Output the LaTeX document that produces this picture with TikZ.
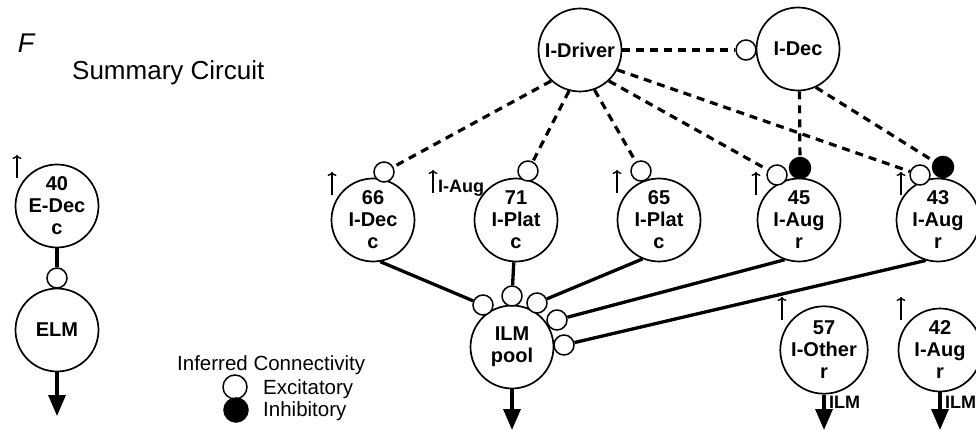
\documentclass[tikz,border=0pt]{standalone}
\usepackage{fontspec}
\setmainfont{Liberation Sans}
\usetikzlibrary{arrows.meta}

\tikzset{
  cell/.style={circle, draw, line width=1.7pt, minimum size=83pt, inner sep=0pt,
    align=center, font=\fontsize{20}{22}\selectfont\bfseries},
  exc/.style={circle, draw, fill=white, line width=1.5pt, minimum size=20pt, inner sep=0pt},
  inh/.style={circle, draw, fill=black, line width=1.5pt, minimum size=21pt, inner sep=0pt},
  guess/.style={line width=3.2pt, dash pattern=on 8pt off 6pt},
  link/.style={line width=3.3pt},
  outflow/.style={line width=3.3pt, -{Triangle[length=21pt,width=17pt]}},
  rise/.style={line width=1.4pt, -{To[length=4pt,width=9pt]}},
  tag/.style={font=\fontsize{18}{20}\selectfont\bfseries},
  legend/.style={font=\fontsize{20.5}{23}\selectfont}
}

\begin{document}
\begin{tikzpicture}[x=1pt, y=-1pt]
	\useasboundingbox (0,0) rectangle (976,430);

	% panel letter and title
	\node[font=\fontsize{27}{30}\selectfont\itshape, inner sep=0pt] (panel) at (26,43) {F};
	\node[anchor=base west, inner sep=0pt, font=\fontsize{26}{28}\selectfont] (title) at (72,80) {Summary Circuit};

	% cells
	\node[cell] (c40) at (57,206) {40\\E-Dec\\c};
	\node[cell] (elm) at (57,330) {ELM};
	\node[cell] (drv) at (580,50) {I-Driver};
	\node[cell] (dec) at (798,49) {I-Dec};
	\node[cell] (c66) at (373,220) {66\\I-Dec\\c};
	\node[cell] (c71) at (516,220) {71\\I-Plat\\c};
	\node[cell] (c65) at (659,220) {65\\I-Plat\\c};
	\node[cell] (c45) at (799,220) {45\\I-Aug\\r};
	\node[cell] (c43) at (938,220) {43\\I-Aug\\r};
	\node[cell] (pool) at (512,347) {ILM\\pool};
	\node[cell] (c57) at (824,350) {57\\I-Other\\r};
	\node[cell] (c42) at (940,350) {42\\I-Aug\\r};

	% synapses
	\node[exc] (e1) at (57,278) {};
	\node[exc] (sdec) at (746,50) {};
	\node[exc] (s66) at (384,172) {};
	\node[exc] (s71) at (528,171) {};
	\node[exc] (s65) at (641,171) {};
	\node[exc] (s45) at (777,175) {};
	\node[inh] (s45i) at (800,168) {};
	\node[exc] (s43) at (920,175) {};
	\node[inh] (s43i) at (943,167) {};
	\node[exc] (i1) at (483,305) {};
	\node[exc] (i2) at (512,296) {};
	\node[exc] (i3) at (537,303) {};
	\node[exc] (i4) at (557,320) {};
	\node[exc] (i5) at (564,345) {};

	% inferred inputs
	\draw[guess] (drv.0) -- (sdec);
	\draw[guess] (drv.227) -- (s66);
	\draw[guess] (drv.255) -- (s71);
	\draw[guess] (drv.290) -- (s65);
	\draw[guess] (drv.313) -- (s45);
	\draw[guess] (drv.332) -- (s43);
	\draw[guess] (dec.272) -- (s45i);
	\draw[guess] (dec.295) -- (s43i);

	% projections
	\draw[link] (c40) -- (e1);
	\draw[link] (c66.280) -- (i1);
	\draw[link] (c71) -- (i2);
	\draw[link] (c65.247) -- (i3);
	\draw[link] (c45.250) -- (i4);
	\draw[link] (c43.253) -- (i5);

	% outputs
	\coordinate (elmout) at (57,416);
	\coordinate (poolout) at (512,430);
	\coordinate (out57) at (824,430);
	\coordinate (out42) at (940,430);
	\draw[outflow] (elm) -- (elmout);
	\draw[outflow] (pool) -- (poolout);
	\draw[outflow] (c57) -- (out57);
	\draw[outflow] (c42) -- (out42);
	\node[tag, anchor=west, inner sep=0pt] (ilm57) at (829,402) {ILM};
	\node[tag, anchor=west, inner sep=0pt] (ilm42) at (945,402) {ILM};

	% up arrows
	\foreach \x/\y in {17/178, 332/195, 433/193, 617/193, 756/195, 901/195, 782/320, 901/320}
		\draw[rise] (\x,\y) -- ++(0,-23);
	\node[tag, anchor=base west, inner sep=0pt] (aug) at (438,193) {I-Aug};

	% legend
	\node[legend, anchor=base west, inner sep=0pt] (lhead) at (177,370) {Inferred Connectivity};
	\node[exc, minimum size=24pt] (lexc) at (235,387) {};
	\node[inh, minimum size=24pt] (linh) at (236,410) {};
	\node[legend, anchor=base west, inner sep=0pt] (ltexc) at (263,394) {Excitatory};
	\node[legend, anchor=base west, inner sep=0pt] (ltinh) at (263,416) {Inhibitory};
\end{tikzpicture}
\end{document}
